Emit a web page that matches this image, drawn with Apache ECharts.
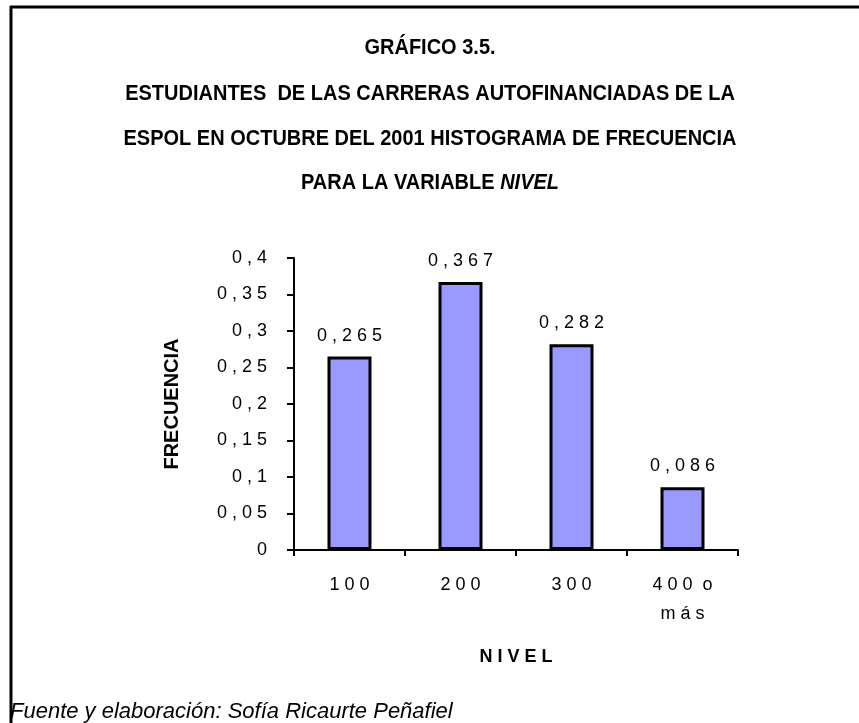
<!DOCTYPE html>
<html lang="es">
<head>
    <meta charset="UTF-8">
    <title>Gráfico 3.5</title>
    <script src="https://cdn.jsdelivr.net/npm/echarts@6/dist/echarts.min.js"></script>
    <style>
        html, body {
            margin: 0;
            padding: 0;
            background: #fff;
        }
        #box {
            width: 859px;
            height: 723px;
        }
    </style>
</head>
<body>
<div id="box"></div>
<script>
    // datos del histograma
    var niveles = ['100', '200', '300', '400 o más'];
    var frecuencias = [0.265, 0.367, 0.282, 0.086];
    var yTicks = [0, 0.05, 0.1, 0.15, 0.2, 0.25, 0.3, 0.35, 0.4];
    var titulo = [
        'GRÁFICO 3.5.',
        'ESTUDIANTES  DE LAS CARRERAS AUTOFINANCIADAS DE LA',
        'ESPOL EN OCTUBRE DEL 2001 HISTOGRAMA DE FRECUENCIA',
        '{n|PARA LA VARIABLE }{i|NIVEL}'
    ];

    var fuente = 'Liberation Sans, Arial, sans-serif';

    // estilo excel: caracteres espaciados y coma decimal
    function espaciar(s) {
        return s.split('').join(' ').replace(/   /g, '  ');
    }
    function coma(v) {
        return espaciar(String(v).replace('.', ','));
    }

    var graficos = [
        // marco superior e izquierdo
        {type: 'line', shape: {x1: 10, y1: 7, x2: 859, y2: 7}, style: {stroke: '#000', lineWidth: 3}},
        {type: 'line', shape: {x1: 11, y1: 6, x2: 11, y2: 723}, style: {stroke: '#000', lineWidth: 3}},
        {
            type: 'text',
            x: 10,
            y: 712,
            style: {
                text: 'Fuente y elaboración: Sofía Ricaurte Peñafiel',
                font: 'italic 22px Liberation Sans, Arial, sans-serif',
                fill: '#000',
                textVerticalAlign: 'middle'
            }
        }
    ];
    var yTitulo = [48, 94, 139, 183];
    for (var i = 0; i < titulo.length; i++) {
        graficos.push({
            type: 'text',
            x: 430,
            y: yTitulo[i],
            scaleY: 1.12,
            style: {
                text: titulo[i],
                font: 'bold 20px Liberation Sans, Arial, sans-serif',
                fill: '#000',
                textAlign: 'center',
                textVerticalAlign: 'middle',
                rich: {
                    n: {font: 'bold 20px Liberation Sans, Arial, sans-serif', fill: '#000'},
                    i: {font: 'italic bold 20px Liberation Sans, Arial, sans-serif', fill: '#000'}
                }
            }
        });
    }

    var myChart = echarts.init(document.getElementById('box'));
    var option = {
        backgroundColor: '#fff',
        animation: false,
        grid: {
            left: 294,
            top: 258,
            right: 121,
            bottom: 173
        },
        xAxis: {
            type: 'category',
            data: niveles,
            name: 'N I V E L',
            nameLocation: 'middle',
            nameGap: 98,
            nameTextStyle: {fontFamily: fuente, fontSize: 18, fontWeight: 'bold', color: '#000'},
            axisLine: {lineStyle: {color: '#000', width: 2}},
            axisTick: {show: true, length: 6, lineStyle: {color: '#000', width: 2}},
            axisLabel: {
                color: '#000',
                fontFamily: fuente,
                fontSize: 18,
                margin: 21,
                lineHeight: 29,
                formatter: function (v) {
                    return v.split(' o ').map(espaciar).join('  o\n');
                }
            }
        },
        yAxis: {
            type: 'value',
            min: 0,
            max: 0.4,
            interval: 0.05,
            name: 'FRECUENCIA',
            nameLocation: 'middle',
            nameRotate: 90,
            nameGap: 112,
            nameTextStyle: {fontFamily: fuente, fontSize: 20, fontWeight: 'bold', color: '#000'},
            splitLine: {show: false},
            axisLine: {show: true, lineStyle: {color: '#000', width: 2}},
            axisTick: {show: true, length: 7, lineStyle: {color: '#000', width: 2}},
            axisLabel: {
                color: '#000',
                fontFamily: fuente,
                fontSize: 18,
                margin: 27,
                formatter: function (v) {
                    // solo etiquetas de la lista
                    for (var k = 0; k < yTicks.length; k++) {
                        if (Math.abs(yTicks[k] - v) < 1e-9) return coma(yTicks[k]);
                    }
                    return '';
                }
            }
        },
        series: [
            {
                type: 'bar',
                data: frecuencias,
                barWidth: 44,
                itemStyle: {
                    color: '#9999FF',
                    borderColor: '#000',
                    borderWidth: 3
                },
                label: {
                    show: true,
                    position: 'top',
                    distance: 12,
                    color: '#000',
                    fontFamily: fuente,
                    fontSize: 18,
                    formatter: function (p) {
                        return coma(p.value);
                    }
                }
            }
        ],
        graphic: graficos
    };
    myChart.setOption(option);
</script>
</body>
</html>
